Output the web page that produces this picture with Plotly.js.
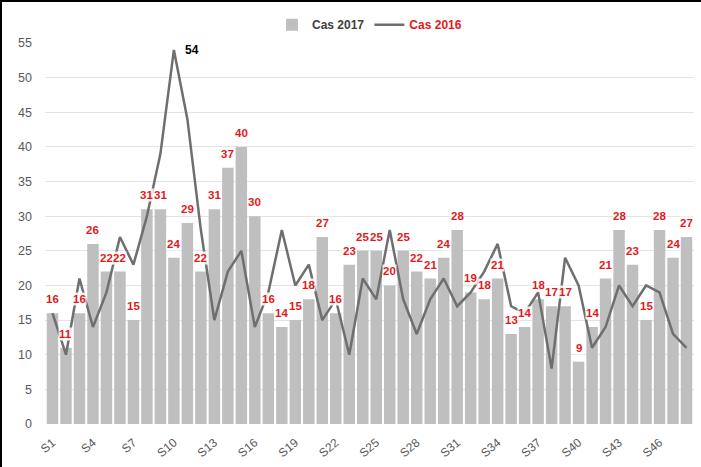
<!DOCTYPE html>
<html>
<head>
<meta charset="utf-8">
<script src="https://cdn.plot.ly/plotly-3.0.1.min.js"></script>
<style>
  html, body { margin: 0; padding: 0; background: #fff; }
  #chart { width: 701px; height: 467px; box-sizing: border-box; border-left: 2px solid #000; border-top: 2px solid #000; }
</style>
</head>
<body>
<div id="chart"></div>
<script>
// Weeks S1..S48
const weeks = ["S1","S2","S3","S4","S5","S6","S7","S8","S9","S10","S11","S12","S13","S14","S15","S16",
  "S17","S18","S19","S20","S21","S22","S23","S24","S25","S26","S27","S28","S29","S30","S31","S32",
  "S33","S34","S35","S36","S37","S38","S39","S40","S41","S42","S43","S44","S45","S46","S47","S48"];

// Cas 2017 (bars)
const cas2017 = [16,11,16,26,22,22,15,31,31,24,29,22,31,37,40,30,
  16,14,15,18,27,16,23,25,25,20,25,22,21,24,28,19,
  18,21,13,14,18,17,17,9,14,21,28,23,15,28,24,27];

// Cas 2016 (line)
const cas2016 = [16,10,21,14,19,27,23,30,39,54,44,28,15,22,25,14,
  19,28,20,23,15,18,10,21,18,28,18,13,18,21,17,19,
  22,26,17,16,19,8,24,20,11,14,20,17,20,19,13,11];

// X tick labels shown (every 3rd week)
const tickLabels = ["S1","S4","S7","S10","S13","S16","S19","S22","S25","S28","S31","S34","S37","S40","S43","S46"];

const peakLabel = "54";

const red = "#e3191c";

const traces = [
  {
    type: "bar",
    name: "<b>Cas 2017</b>",
    x: weeks,
    y: cas2017,
    marker: { color: "#bfbfbf" },
    hoverinfo: "x+y"
  },
  {
    type: "scatter",
    mode: "lines",
    name: '<b><span style="color:' + red + '">Cas 2016</span></b>',
    x: weeks,
    y: cas2016,
    line: { color: "#6f6f6f", width: 2.5 }
  }
];

const annotations = cas2017.map((v, i) => ({
  x: weeks[i],
  y: v,
  xref: "x",
  yref: "y",
  text: "<b>" + v + "</b>",
  showarrow: false,
  yanchor: "middle",
  yshift: 14,
  font: { family: "Liberation Sans, Arial, sans-serif", size: 11.5, color: red },
  bgcolor: "rgba(255,255,255,0.85)",
  borderpad: 0
}));

const peakIdx = cas2016.indexOf(Math.max(...cas2016));
annotations.push({
  x: weeks[peakIdx],
  y: cas2016[peakIdx],
  xref: "x",
  yref: "y",
  text: "<b>" + peakLabel + "</b>",
  showarrow: false,
  xanchor: "left",
  yanchor: "middle",
  xshift: 9,
  font: { family: "Liberation Sans, Arial, sans-serif", size: 12, color: "#000" }
});

const layout = {
  width: 701,
  height: 467,
  margin: { l: 43, r: 9, t: 40, b: 45 },
  paper_bgcolor: "#fff",
  plot_bgcolor: "#fff",
  bargap: 0.15,
  font: { family: "Liberation Sans, Arial, sans-serif", size: 12, color: "#595959" },
  showlegend: true,
  legend: {
    orientation: "h",
    x: 0.5,
    xanchor: "center",
    y: 1.045,
    yanchor: "middle",
    font: { size: 12, color: "#404040" },
    bgcolor: "rgba(0,0,0,0)",
    traceorder: "normal"
  },
  xaxis: {
    type: "category",
    tickmode: "array",
    tickvals: tickLabels,
    ticktext: tickLabels,
    tickangle: -40,
    tickfont: { size: 12, color: "#595959" },
    showgrid: false,
    zeroline: false,
    showline: false,
    ticks: "outside",
    ticklen: 6,
    tickcolor: "rgba(0,0,0,0)"
  },
  yaxis: {
    range: [0, 55],
    dtick: 5,
    tick0: 0,
    showgrid: true,
    gridcolor: "#e3e3e3",
    gridwidth: 1,
    zeroline: false,
    showline: false,
    ticks: "",
    ticklabelstandoff: 12,
    tickfont: { size: 12.5, color: "#595959" }
  },
  annotations: annotations
};

Plotly.newPlot("chart", traces, layout, { displayModeBar: false, staticPlot: true });
</script>
</body>
</html>
